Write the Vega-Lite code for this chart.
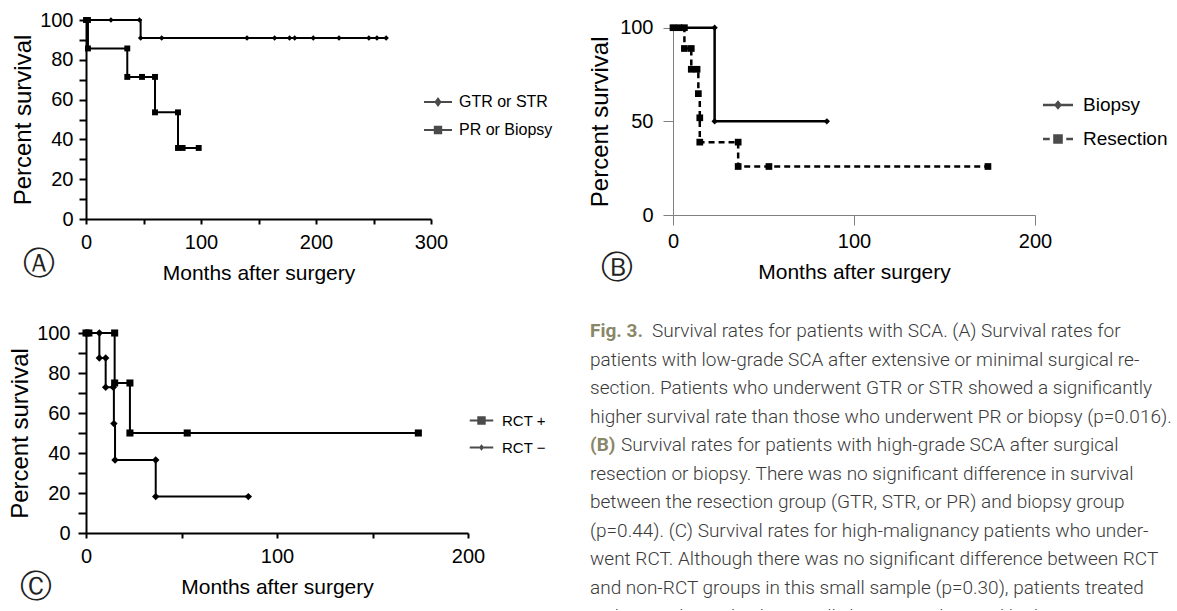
{
  "$schema": "https://vega.github.io/schema/vega-lite/v6.json",
  "background": "white",
  "padding": {"left": 8, "top": 10, "right": 0, "bottom": 0},
  "bounds": "full",
  "spacing": 38,
  "config": {
    "view": {"stroke": null},
    "font": "Liberation Sans",
    "axis": {"grid": false, "labelFont": "Liberation Sans", "titleFont": "Liberation Sans", "labelColor": "black", "titleColor": "black", "titleFontWeight": "normal", "labelFontSize": 20, "titleFontSize": 21, "labelOverlap": false, "labelFlush": false},
    "axisY": {"titleFontSize": 24},
    "legend": {"labelFont": "Liberation Sans", "labelColor": "black", "padding": 0},
    "title": {"font": "DejaVu Sans", "fontWeight": "normal", "color": "#222222", "fontSize": 32}
  },
  "datasets": {
    "a": [
      {"g": "GTR or STR", "t": 0, "s": 100},
      {"g": "GTR or STR", "t": 21.7, "s": 100},
      {"g": "GTR or STR", "t": 46.5, "s": 100},
      {"g": "GTR or STR", "t": 47.5, "s": 90.9},
      {"g": "GTR or STR", "t": 65.8, "s": 90.9},
      {"g": "GTR or STR", "t": 140, "s": 90.9},
      {"g": "GTR or STR", "t": 164, "s": 90.9},
      {"g": "GTR or STR", "t": 177, "s": 90.9},
      {"g": "GTR or STR", "t": 181.5, "s": 90.9},
      {"g": "GTR or STR", "t": 197.6, "s": 90.9},
      {"g": "GTR or STR", "t": 220, "s": 90.9},
      {"g": "GTR or STR", "t": 246, "s": 90.9},
      {"g": "GTR or STR", "t": 253, "s": 90.9},
      {"g": "GTR or STR", "t": 261, "s": 90.9},
      {"g": "PR or Biopsy", "t": 0, "s": 100},
      {"g": "PR or Biopsy", "t": 1.7, "s": 100},
      {"g": "PR or Biopsy", "t": 1.7, "s": 85.7},
      {"g": "PR or Biopsy", "t": 35.9, "s": 85.7},
      {"g": "PR or Biopsy", "t": 35.9, "s": 71.4},
      {"g": "PR or Biopsy", "t": 48.7, "s": 71.4},
      {"g": "PR or Biopsy", "t": 60, "s": 71.4},
      {"g": "PR or Biopsy", "t": 60, "s": 53.6},
      {"g": "PR or Biopsy", "t": 80, "s": 53.6},
      {"g": "PR or Biopsy", "t": 80, "s": 35.7},
      {"g": "PR or Biopsy", "t": 84, "s": 35.7},
      {"g": "PR or Biopsy", "t": 98, "s": 35.7}
    ],
    "b": [
      {"g": "Biopsy", "t": 0, "s": 100},
      {"g": "Biopsy", "t": 23, "s": 100},
      {"g": "Biopsy", "t": 23, "s": 50},
      {"g": "Biopsy", "t": 85, "s": 50},
      {"g": "Resection", "t": 0, "s": 100},
      {"g": "Resection", "t": 3.3, "s": 100},
      {"g": "Resection", "t": 6.3, "s": 100},
      {"g": "Resection", "t": 6.3, "s": 88.9},
      {"g": "Resection", "t": 10.1, "s": 88.9},
      {"g": "Resection", "t": 10.1, "s": 77.8},
      {"g": "Resection", "t": 13.3, "s": 77.8},
      {"g": "Resection", "t": 14, "s": 64.8},
      {"g": "Resection", "t": 14.8, "s": 51.9},
      {"g": "Resection", "t": 14.8, "s": 38.9},
      {"g": "Resection", "t": 36, "s": 38.9},
      {"g": "Resection", "t": 36, "s": 25.9},
      {"g": "Resection", "t": 53, "s": 25.9},
      {"g": "Resection", "t": 174, "s": 25.9}
    ],
    "c": [
      {"g": "RCT +", "t": 0, "s": 100},
      {"g": "RCT +", "t": 1.5, "s": 100},
      {"g": "RCT +", "t": 15, "s": 100},
      {"g": "RCT +", "t": 15, "s": 75},
      {"g": "RCT +", "t": 23, "s": 75},
      {"g": "RCT +", "t": 23, "s": 50},
      {"g": "RCT +", "t": 53, "s": 50},
      {"g": "RCT +", "t": 174, "s": 50},
      {"g": "RCT −", "t": 0, "s": 100},
      {"g": "RCT −", "t": 7, "s": 100},
      {"g": "RCT −", "t": 7, "s": 87.5},
      {"g": "RCT −", "t": 10.3, "s": 87.5},
      {"g": "RCT −", "t": 10.3, "s": 72.9},
      {"g": "RCT −", "t": 14.3, "s": 72.9},
      {"g": "RCT −", "t": 14.6, "s": 54.7},
      {"g": "RCT −", "t": 15.2, "s": 36.5},
      {"g": "RCT −", "t": 36.5, "s": 36.5},
      {"g": "RCT −", "t": 36.5, "s": 18.2},
      {"g": "RCT −", "t": 85, "s": 18.2}
    ],
    "cap": [
      {"line": 1, "part": "label", "txt": "Fig. 3."},
      {"line": 1, "part": "rest", "txt": "Survival rates for patients with SCA. (A) Survival rates for"},
      {"line": 2, "part": "text", "txt": "patients with low-grade SCA after extensive or minimal surgical re-"},
      {"line": 3, "part": "text", "txt": "section. Patients who underwent GTR or STR showed a significantly"},
      {"line": 4, "part": "text", "txt": "higher survival rate than those who underwent PR or biopsy (p=0.016)."},
      {"line": 5, "part": "label", "txt": "(B)"},
      {"line": 5, "part": "rest", "txt": "Survival rates for patients with high-grade SCA after surgical"},
      {"line": 6, "part": "text", "txt": "resection or biopsy. There was no significant difference in survival"},
      {"line": 7, "part": "text", "txt": "between the resection group (GTR, STR, or PR) and biopsy group"},
      {"line": 8, "part": "text", "txt": "(p=0.44). (C) Survival rates for high-malignancy patients who under-"},
      {"line": 9, "part": "text", "txt": "went RCT. Although there was no significant difference between RCT"},
      {"line": 10, "part": "text", "txt": "and non-RCT groups in this small sample (p=0.30), patients treated"},
      {"line": 11, "part": "cut", "txt": "with RCT showed substantially longer median and higher 5-year"}
    ]
  },
  "vconcat": [
    {
      "hconcat": [
        {
          "width": 345,
          "height": 199,
          "title": {"text": "Ⓐ", "orient": "bottom", "anchor": "start", "frame": "bounds", "offset": -34, "dx": 11},
          "encoding": {
            "x": {"field": "t", "type": "quantitative", "scale": {"domain": [0, 300], "nice": false, "zero": false},
              "axis": {"title": "Months after surgery", "values": [0, 50, 100, 150, 200, 250, 300], "labelExpr": "datum.value % 100 === 0 ? datum.label : ''", "domainColor": "black", "domainWidth": 2, "tickColor": "black", "tickWidth": 2, "tickSize": 5, "labelPadding": 8, "titlePadding": 10}},
            "y": {"field": "s", "type": "quantitative", "scale": {"domain": [0, 100], "nice": false},
              "axis": {"title": "Percent survival", "values": [0, 10, 20, 30, 40, 50, 60, 70, 80, 90, 100], "labelExpr": "datum.value % 20 === 0 ? datum.label : ''", "domainColor": "black", "domainWidth": 2, "tickColor": "black", "tickWidth": 2, "tickSize": 7, "labelPadding": 6, "titlePadding": 4}}
          },
          "layer": [
            {"data": {"name": "a"}, "mark": {"type": "line", "interpolate": "step-after", "color": "black", "strokeWidth": 2},
              "encoding": {"detail": {"field": "g"}, "order": [{"field": "t", "type": "quantitative"}, {"field": "s", "type": "quantitative", "sort": "descending"}]}},
            {"data": {"name": "a"}, "mark": {"type": "point", "filled": true, "color": "black", "opacity": 1},
              "encoding": {
                "shape": {"field": "g", "type": "nominal", "scale": {"domain": ["GTR or STR", "PR or Biopsy"], "range": ["diamond", "square"]}, "legend": null},
                "size": {"field": "g", "type": "nominal", "scale": {"domain": ["GTR or STR", "PR or Biopsy"], "range": [30, 55]}, "legend": null}}},
            {"data": {"name": "a"}, "transform": [{"filter": "false"}],
              "mark": {"type": "point", "filled": true, "color": "black"},
              "encoding": {
                "shape": {"field": "g", "type": "nominal", "scale": {"domain": ["GTR or STR", "PR or Biopsy"], "range": ["M-1,-0.071H1V0.071H-1ZM0,-0.36L0.26,0L0,0.36L-0.26,0Z", "M-1,-0.071H1V0.071H-1ZM-0.3,-0.3H0.3V0.3H-0.3Z"]},
                  "legend": {"orient": "none", "legendX": 337, "legendY": 67, "direction": "vertical", "title": null, "symbolSize": 784, "labelFontSize": 16, "labelOffset": 6, "rowPadding": 4,
                    "encode": {"symbols": {"fill": {"value": "black"}, "opacity": {"value": 1}}}}}}}
          ],
          "resolve": {"scale": {"shape": "independent"}, "legend": {"shape": "independent"}}
        },
        {
          "width": 362,
          "height": 195,
          "title": {"text": "Ⓑ", "orient": "bottom", "anchor": "start", "frame": "bounds", "offset": -29, "dx": 12},
          "encoding": {
            "x": {"field": "t", "type": "quantitative", "scale": {"domain": [0, 200], "nice": false, "zero": false},
              "axis": {"title": "Months after surgery", "values": [0, 100, 200], "domainColor": "#808080", "domainWidth": 1, "tickColor": "#808080", "tickWidth": 1, "tickSize": 10, "labelPadding": 6, "titlePadding": 10}},
            "y": {"field": "s", "type": "quantitative", "scale": {"domain": [0, 100], "nice": false, "range": [195, 7.7]},
              "axis": {"title": "Percent survival", "values": [0, 50, 100], "domainColor": "#808080", "domainWidth": 1, "tickColor": "#808080", "tickWidth": 1, "tickSize": 10, "labelPadding": 10, "titlePadding": 7}}
          },
          "layer": [
            {"data": {"name": "b"}, "mark": {"type": "line", "interpolate": "step-after", "color": "black", "strokeWidth": 2.5},
              "encoding": {"detail": {"field": "g"},
                "strokeDash": {"field": "g", "type": "nominal", "scale": {"domain": ["Biopsy", "Resection"], "range": [[1, 0], [6, 4]]}, "legend": null},
                "order": [{"field": "t", "type": "quantitative"}, {"field": "s", "type": "quantitative", "sort": "descending"}]}},
            {"data": {"name": "b"}, "mark": {"type": "point", "filled": true, "color": "black", "opacity": 1},
              "encoding": {
                "shape": {"field": "g", "type": "nominal", "scale": {"domain": ["Biopsy", "Resection"], "range": ["diamond", "square"]}, "legend": null},
                "size": {"field": "g", "type": "nominal", "scale": {"domain": ["Biopsy", "Resection"], "range": [70, 100]}, "legend": null}}},
            {"data": {"name": "b"}, "transform": [{"filter": "false"}],
              "mark": {"type": "point", "filled": true, "color": "black"},
              "encoding": {
                "shape": {"field": "g", "type": "nominal", "scale": {"domain": ["Biopsy", "Resection"], "range": ["M-1,-0.083H1V0.083H-1ZM0,-0.32L0.27,0L0,0.32L-0.27,0Z", "M-1,-0.083H-0.55V0.083H-1ZM0.55,-0.083H1V0.083H0.55ZM-0.32,-0.32H0.32V0.32H-0.32Z"]},
                  "legend": {"orient": "none", "legendX": 369, "legendY": 69, "direction": "vertical", "title": null, "symbolSize": 900, "labelFontSize": 19, "labelOffset": 9, "rowPadding": 8,
                    "encode": {"symbols": {"fill": {"value": "black"}, "opacity": {"value": 1}}}}}}}
          ],
          "resolve": {"scale": {"shape": "independent"}, "legend": {"shape": "independent"}}
        }
      ],
      "spacing": 242,
      "bounds": "flush"
    },
    {
      "hconcat": [
        {
          "width": 382,
          "height": 200,
          "title": {"text": "Ⓒ", "orient": "bottom", "anchor": "start", "frame": "bounds", "offset": -25, "dx": 11},
          "encoding": {
            "x": {"field": "t", "type": "quantitative", "scale": {"domain": [0, 200], "nice": false, "zero": false},
              "axis": {"title": "Months after surgery", "values": [0, 50, 100, 150, 200], "labelExpr": "datum.value % 100 === 0 ? datum.label : ''", "domainColor": "black", "domainWidth": 2, "tickColor": "black", "tickWidth": 2, "tickSize": 5, "labelPadding": 8, "titlePadding": 10}},
            "y": {"field": "s", "type": "quantitative", "scale": {"domain": [0, 100], "nice": false},
              "axis": {"title": "Percent survival", "values": [0, 10, 20, 30, 40, 50, 60, 70, 80, 90, 100], "labelExpr": "datum.value % 20 === 0 ? datum.label : ''", "domainColor": "black", "domainWidth": 2, "tickColor": "black", "tickWidth": 2, "tickSize": 8, "labelPadding": 8, "titlePadding": 4}}
          },
          "layer": [
            {"data": {"name": "c"}, "mark": {"type": "line", "interpolate": "step-after", "color": "black", "strokeWidth": 2},
              "encoding": {"detail": {"field": "g"}, "order": [{"field": "t", "type": "quantitative"}, {"field": "s", "type": "quantitative", "sort": "descending"}]}},
            {"data": {"name": "c"}, "mark": {"type": "point", "filled": true, "color": "black", "opacity": 1},
              "encoding": {
                "shape": {"field": "g", "type": "nominal", "scale": {"domain": ["RCT +", "RCT −"], "range": ["square", "diamond"]}, "legend": null},
                "size": {"field": "g", "type": "nominal", "scale": {"domain": ["RCT +", "RCT −"], "range": [60, 25]}, "legend": null}}},
            {"data": {"name": "c"}, "transform": [{"filter": "false"}],
              "mark": {"type": "point", "filled": true, "color": "black"},
              "encoding": {
                "shape": {"field": "g", "type": "nominal", "scale": {"domain": ["RCT +", "RCT −"], "range": ["M-1,-0.085H1V0.085H-1ZM-0.36,-0.36H0.36V0.36H-0.36Z", "M-1,-0.085H1V0.085H-1ZM0,-0.28L0.22,0L0,0.28L-0.22,0Z"]},
                  "legend": {"orient": "none", "legendX": 383, "legendY": 75, "direction": "vertical", "title": null, "symbolSize": 552, "labelFontSize": 15, "labelOffset": 8, "rowPadding": 6,
                    "encode": {"symbols": {"fill": {"value": "black"}, "opacity": {"value": 1}}}}}}}
          ],
          "resolve": {"scale": {"shape": "independent"}, "legend": {"shape": "independent"}}
        },
        {
          "width": 586,
          "height": 277,
          "data": {"name": "cap"},
          "encoding": {
            "y": {"field": "line", "type": "quantitative", "scale": {"domain": [1.07, 10.772], "reverse": true, "nice": false, "zero": false}, "axis": null},
            "x": {"datum": 0, "type": "quantitative", "scale": {"domain": [0, 1], "nice": false}, "axis": null},
            "text": {"field": "txt"}
          },
          "layer": [
            {"transform": [{"filter": "datum.part === 'text'"}],
              "mark": {"type": "text", "align": "left", "baseline": "middle", "font": "Roboto", "fontSize": 19, "fontWeight": 300, "color": "#3a3a3a", "limit": 590}},
            {"transform": [{"filter": "datum.part === 'cut'"}],
              "mark": {"type": "text", "align": "left", "baseline": "middle", "font": "Roboto", "fontSize": 19, "fontWeight": 300, "color": "#3a3a3a", "limit": 590, "clip": true}},
            {"transform": [{"filter": "datum.part === 'rest' && datum.line === 1"}],
              "mark": {"type": "text", "align": "left", "baseline": "middle", "dx": 62, "font": "Roboto", "fontSize": 19, "fontWeight": 300, "color": "#3a3a3a", "limit": 525}},
            {"transform": [{"filter": "datum.part === 'rest' && datum.line === 5"}],
              "mark": {"type": "text", "align": "left", "baseline": "middle", "dx": 31, "font": "Roboto", "fontSize": 19, "fontWeight": 300, "color": "#3a3a3a", "limit": 555}},
            {"transform": [{"filter": "datum.part === 'label'"}],
              "mark": {"type": "text", "align": "left", "baseline": "middle", "font": "Roboto", "fontSize": 19, "fontWeight": "bold", "color": "#8a8768"}}
          ]
        }
      ],
      "spacing": 122,
      "bounds": "flush"
    }
  ]
}
